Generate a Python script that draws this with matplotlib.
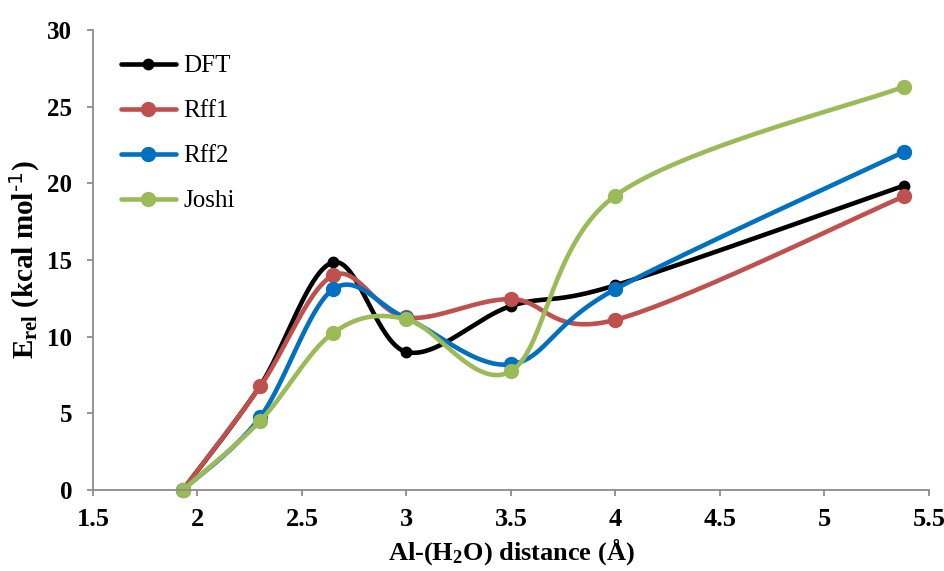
import numpy as np
import matplotlib
matplotlib.use('Agg')
import matplotlib.pyplot as plt

# Al-(H2O) distance (Å)
distance = [1.93, 2.30, 2.65, 3.00, 3.50, 4.00, 5.38]

# relative energies (kcal/mol)
dft = [0.0, 6.8, 14.85, 9.0, 12.0, 13.35, 19.85]
rff1 = [0.0, 6.75, 14.0, 11.25, 12.45, 11.1, 19.15]
rff2 = [0.0, 4.75, 13.1, 11.2, 8.2, 13.1, 22.05]
joshi = [0.0, 4.5, 10.25, 11.15, 7.75, 19.2, 26.3]

series_names = ['DFT', 'Rff1', 'Rff2', 'Joshi']
series_values = [dft, rff1, rff2, joshi]
colors = ['#000000', '#C0504D', '#0070C0', '#9BBB59']
marker_sizes = [7.5, 10, 10, 10]

xtick_labels = ['1.5', '2', '2.5', '3', '3.5', '4', '4.5', '5', '5.5']


def smooth(x, y, n=40):
    # Excel-like smoothed line: cubic Bezier segments, Catmull-Rom tangents (1/6)
    p = np.column_stack([x, y]).astype(float)
    pts = [p[0]]
    for i in range(len(p) - 1):
        p0 = p[i - 1] if i > 0 else p[i]
        p1 = p[i]
        p2 = p[i + 1]
        p3 = p[i + 2] if i + 2 < len(p) else p[i + 1]
        c1 = p1 + (p2 - p0) / 6.0
        c2 = p2 - (p3 - p1) / 6.0
        t = np.linspace(0, 1, n + 1)[1:, None]
        seg = ((1 - t) ** 3) * p1 + 3 * ((1 - t) ** 2) * t * c1 + 3 * (1 - t) * t ** 2 * c2 + t ** 3 * p2
        pts.extend(seg)
    pts = np.array(pts)
    return pts[:, 0], pts[:, 1], list(range(0, len(pts), n))


plt.rcParams['font.family'] = ['Liberation Serif', 'DejaVu Serif']
plt.rcParams['mathtext.default'] = 'regular'
plt.rcParams['axes.unicode_minus'] = False

fig = plt.figure(figsize=(9.44, 5.71), dpi=100)
ax = fig.add_axes([0.0985, 0.1419, 0.8855, 0.8055])

for name, vals, c, ms in zip(series_names, series_values, colors, marker_sizes):
    sx, sy, idx = smooth(distance, vals)
    ax.plot(sx, sy, color=c, lw=3.3, marker='o', ms=ms, markevery=idx,
            label=name, solid_capstyle='round', clip_on=False)

ax.set_xlim(1.5, 5.5)
ax.set_ylim(0, 30)
ax.set_xticks(np.arange(1.5, 5.51, 0.5))
ax.set_xticklabels(xtick_labels)
ax.set_yticks(np.arange(0, 31, 5))

for s in ['top', 'right']:
    ax.spines[s].set_visible(False)
for s in ['left', 'bottom']:
    ax.spines[s].set_color('#8C8C8C')
    ax.spines[s].set_linewidth(1.3)
ax.tick_params(colors='#8C8C8C', width=1.3, length=4, labelcolor='black')
ax.tick_params(axis='x', labelsize=19, pad=9)
ax.tick_params(axis='y', labelsize=18, pad=11)
for lbl in ax.get_xticklabels() + ax.get_yticklabels():
    lbl.set_fontweight('bold')

ax.set_xlabel('Al-(H$_2$O) distance (Å)', fontsize=19, fontweight='bold', labelpad=4)
ax.set_ylabel(r'E$_{rel}$ (kcal mol$^{\text{-1}}$)', fontsize=21, fontweight='bold', labelpad=4)

ax.legend(loc='upper left', bbox_to_anchor=(0.0335, 0.946), frameon=False,
          fontsize=18, handlelength=2.2, handletextpad=0.3, labelspacing=0.9,
          numpoints=1, borderpad=0, borderaxespad=0)

fig.savefig('out.png', dpi=100)
